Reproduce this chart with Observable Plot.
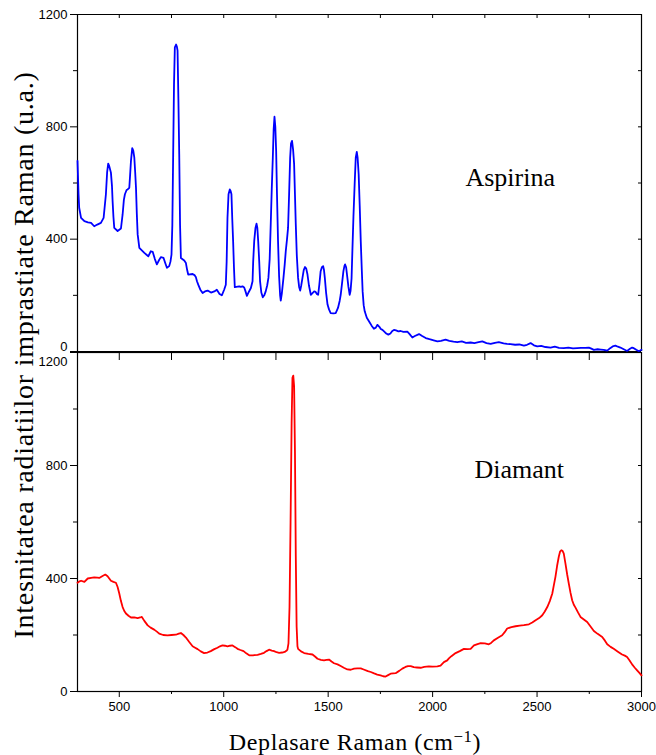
<!DOCTYPE html>
<html><head><meta charset="utf-8">
<script src="https://cdn.jsdelivr.net/npm/d3@7"></script>
<script src="https://cdn.jsdelivr.net/npm/@observablehq/plot@0.6"></script>
<style>
body{margin:0;background:#fff;}
#wrap{position:relative;width:656px;height:755px;overflow:hidden;background:#fff;}
#top,#bot{position:absolute;left:0;}
#top{top:0px;}
#bot{top:340px;}
.ttl{position:absolute;font-family:"Liberation Serif","Times New Roman",serif;color:#000;white-space:nowrap;line-height:1;}
#xt{left:355px;top:730px;font-size:24px;letter-spacing:0.6px;transform:translateX(-50%);}
#xt .sp{font-size:0.7em;vertical-align:0.5em;line-height:0;}
#yt{left:24px;top:355px;font-size:28px;letter-spacing:0.75px;transform:translate(-50%,-50%) rotate(-90deg);}
</style></head><body>
<div id="wrap">
<div id="top"></div>
<div id="bot"></div>
<div class="ttl" id="xt">Deplasare Raman (cm<span class="sp">−1</span>)</div>
<div class="ttl" id="yt">Intesnitatea radiatiilor imprastiate Raman (u.a.)</div>
</div>
<script>
// ---------- data ----------
const aspX = [300,305,308,317,333,350,365,380,395,412,425,436,442,447,452,460,465,468,472,476,492,508,516,522,527,535,540,548,552,556,562,567,572,576,580,584,588,596,608,620,639,651,660,670,680,690,699,712,720,728,739,745,750,754,758,762,766,772,776,779,783,787,791,795,811,819,825,830,851,860,867,872,878,888,899,910,923,939,955,967,980,991,1002,1010,1014,1018,1023,1029,1033,1037,1041,1045,1049,1053,1074,1082,1090,1098,1104,1111,1120,1130,1138,1141,1146,1152,1157,1161,1165,1170,1174,1180,1187,1194,1201,1208,1214,1220,1225,1230,1235,1239,1243,1247,1251,1255,1260,1265,1270,1273,1278,1286,1292,1297,1303,1308,1313,1318,1322,1327,1332,1337,1341,1345,1350,1356,1361,1366,1371,1377,1383,1389,1395,1401,1408,1417,1425,1433,1440,1446,1452,1458,1464,1470,1476,1480,1484,1490,1497,1504,1512,1525,1536,1547,1555,1560,1566,1573,1578,1581,1586,1592,1597,1603,1607,1612,1616,1621,1627,1632,1637,1641,1646,1651,1656,1661,1665,1670,1675,1685,1696,1708,1719,1728,1736,1745,1752,1760,1770,1778,1788,1798,1806,1815,1825,1836,1847,1860,1879,1890,1903,1915,1935,1950,1967,1985,2005,2023,2040,2062,2080,2100,2118,2140,2160,2182,2200,2220,2238,2258,2278,2298,2317,2340,2356,2373,2395,2415,2437,2452,2469,2485,2501,2520,2540,2565,2585,2605,2628,2650,2672,2692,2710,2730,2748,2760,2772,2790,2805,2819,2836,2850,2862,2875,2887,2899,2915,2931,2945,2955,2963,2975,2987,3000];
const aspY = [679,560,512,476,464,460,458,446,452,458,476,560,640,669,660,637,590,536,480,440,429,438,488,540,560,575,577,583,630,679,724,715,690,640,583,490,417,369,360,351,339,357,355,330,310,325,336,333,315,298,304,320,345,450,702,950,1083,1093,1085,1071,900,702,450,333,324,315,290,274,276,272,264,250,238,220,208,214,217,210,214,220,205,200,220,238,320,476,560,577,572,560,470,393,300,229,232,230,232,228,215,198,212,226,250,320,393,440,455,440,393,320,250,210,193,200,214,235,262,330,452,580,690,790,836,800,714,560,393,270,200,181,205,262,310,357,400,440,560,690,740,750,720,667,560,452,340,262,230,217,235,262,290,301,295,274,235,202,208,214,212,205,202,240,286,300,304,290,262,210,167,150,137,136,137,155,180,202,240,286,305,310,300,262,230,202,215,260,360,480,600,690,711,690,631,520,393,290,214,165,143,120,107,92,81,85,95,88,80,77,70,64,60,64,72,77,75,72,73,70,71,62,50,55,62,55,48,44,40,36,38,42,38,35,33,36,31,32,30,33,36,30,27,31,33,29,27,26,24,25,21,24,30,22,18,20,16,14,17,13,12,14,11,12,13,13,14,10,6,8,7,6,3,12,18,21,17,14,8,2,10,14,12,6,1,6];

const diaX = [300,310,317,333,349,365,380,395,404,420,433,444,452,460,472,484,492,500,508,516,524,532,544,556,572,588,600,608,620,636,650,667,680,691,710,731,750,771,785,795,807,819,835,851,863,875,890,906,922,938,955,970,982,994,1006,1018,1030,1042,1055,1066,1080,1095,1108,1122,1140,1162,1178,1193,1205,1217,1230,1241,1253,1265,1280,1292,1300,1305,1310,1315,1320,1325,1329,1333,1337,1341,1345,1349,1353,1356,1370,1385,1405,1425,1437,1449,1465,1480,1492,1504,1516,1528,1545,1560,1575,1592,1608,1624,1640,1656,1670,1690,1704,1720,1735,1751,1763,1775,1787,1799,1811,1823,1840,1855,1870,1882,1895,1910,1925,1943,1960,1982,2000,2023,2038,2054,2070,2078,2090,2110,2130,2150,2166,2182,2198,2215,2230,2250,2269,2280,2293,2313,2333,2345,2357,2377,2397,2417,2437,2461,2477,2493,2510,2525,2537,2549,2561,2573,2580,2588,2596,2604,2610,2616,2622,2628,2636,2644,2652,2660,2668,2676,2684,2696,2708,2724,2740,2756,2772,2790,2812,2825,2836,2852,2867,2887,2907,2920,2931,2943,2955,2967,2979,2990,3000];
const diaY = [385,390,392,388,400,402,404,403,402,409,414,408,400,392,388,385,370,347,320,299,285,276,268,262,262,260,262,264,250,234,226,219,212,205,200,199,200,201,205,207,200,191,175,160,155,150,142,136,138,143,150,155,160,163,162,160,162,163,157,151,147,143,135,128,128,130,133,137,143,148,145,143,139,137,138,140,144,148,170,299,600,950,1110,1118,1080,850,480,230,160,151,142,136,133,131,124,116,112,110,112,113,106,100,96,90,84,78,77,81,82,82,78,72,69,64,60,57,54,53,58,63,64,65,73,81,87,90,90,86,85,84,87,89,88,89,92,104,110,117,125,136,143,151,150,151,163,168,171,170,167,172,181,190,199,210,223,228,231,233,235,238,244,252,260,270,283,299,320,347,375,406,445,477,495,500,498,488,453,415,382,350,323,307,297,280,264,255,246,230,214,204,193,180,167,158,151,141,131,127,122,110,96,85,75,66,57];

const xMajor = [500,1000,1500,2000,2500,3000];
const xMinor = [750,1250,1750,2250,2750];
const xAll = [500,750,1000,1250,1500,1750,2000,2250,2500,2750];
const yMajor = [0,400,800,1200];
const yMinor = [200,600,1000];
const yAll = [200,400,600,800,1000];
const panelNames = ["Aspirina","Diamant"];

const asp = aspX.map((x,i)=>({x, y: aspY[i]}));
const dia = diaX.map((x,i)=>({x, y: diaY[i]}));

const serif = "'Liberation Serif','Times New Roman',serif";
const common = {
  width: 656, marginLeft: 77, marginRight: 15,
  x: {domain: [300, 3000], label: null},
  y: {domain: [0, 1200], label: null},
  style: {background: "transparent", fontFamily: "'Liberation Sans', Arial, sans-serif", fontSize: "13px", color: "#000", overflow: "visible"}
};
const blank = () => "";
const inner = yMajor.slice(1, 3);   // 400, 800

const topPlot = Plot.plot({
  ...common,
  height: 360, marginTop: 14, marginBottom: 9,
  marks: [
    Plot.ruleY([1200], {strokeWidth: 1.2}),
    Plot.ruleY([0], {strokeWidth: 1.2}),
    Plot.ruleX([300, 3000], {strokeWidth: 1.2}),
    Plot.axisY([...inner, yMajor[3]], {anchor: "left", tickSize: 7, tickPadding: 3, tickFormat: "d"}),
    Plot.axisY([yMajor[0]], {anchor: "left", tickSize: 7, tickFormat: blank}),
    Plot.text([yMajor[0]], {y: d => d, frameAnchor: "left", dx: -10, dy: -5, text: d => String(d), textAnchor: "end"}),
    Plot.axisY(yMinor, {anchor: "left", tickSize: 4, tickFormat: blank}),
    Plot.axisY(yAll, {anchor: "right", tickSize: -4, tickFormat: blank}),
    Plot.axisX(xAll, {anchor: "top", tickSize: -3, tickFormat: blank}),
    Plot.line(asp, {x: "x", y: "y", stroke: "#0000ff", strokeWidth: 1.8}),
    Plot.text([panelNames[0]], {x: 2157, y: 591, text: d => d, textAnchor: "start", lineAnchor: "bottom", fontFamily: serif, fontSize: 26})
  ]
});

const botPlot = Plot.plot({
  ...common,
  height: 385, marginTop: 12, marginBottom: 34,
  marks: [
    Plot.frame({strokeWidth: 1.2}),
    Plot.axisY([yMajor[0], ...inner], {anchor: "left", tickSize: 7, tickPadding: 3, tickFormat: "d"}),
    Plot.axisY([yMajor[3]], {anchor: "left", tickSize: 7, tickFormat: blank}),
    Plot.text([yMajor[3]], {y: d => d, frameAnchor: "left", dx: -10, dy: 9, text: d => String(d), textAnchor: "end"}),
    Plot.axisY(yMinor, {anchor: "left", tickSize: 4, tickFormat: blank}),
    Plot.axisY(yAll, {anchor: "right", tickSize: -4, tickFormat: blank}),
    Plot.axisX(xMajor, {anchor: "bottom", tickSize: 6, tickPadding: 4, tickFormat: "d"}),
    Plot.axisX(xMinor, {anchor: "bottom", tickSize: 3, tickFormat: blank}),
    Plot.axisX(xAll, {anchor: "top", tickSize: -7, tickFormat: blank}),
    Plot.line(dia, {x: "x", y: "y", stroke: "#ff0000", strokeWidth: 1.8}),
    Plot.text([panelNames[1]], {x: 2200, y: 754, text: d => d, textAnchor: "start", lineAnchor: "bottom", fontFamily: serif, fontSize: 26})
  ]
});

document.getElementById("top").appendChild(topPlot);
document.getElementById("bot").appendChild(botPlot);
</script>
</body></html>
